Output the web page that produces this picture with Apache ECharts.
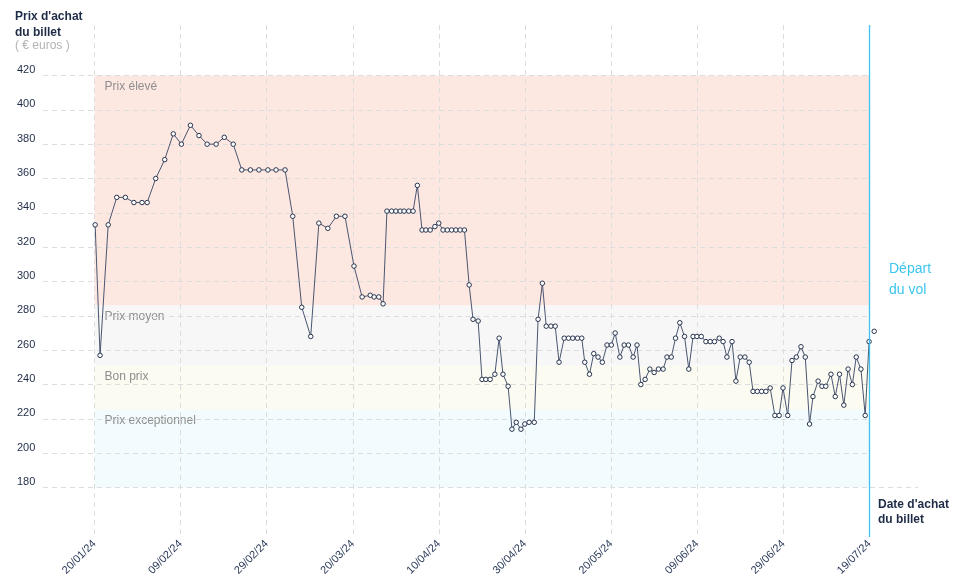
<!DOCTYPE html>
<html>
<head>
<meta charset="utf-8">
<script src="https://cdn.jsdelivr.net/npm/echarts@6/dist/echarts.min.js"></script>
<style>html,body{margin:0;padding:0;background:#fff}#c{width:958px;height:585px}</style>
</head>
<body>
<div id="c"></div>
<script>
// x tick labels (purchase dates)
const tickLabels = ['20/01/24','09/02/24','29/02/24','20/03/24','10/04/24','30/04/24','20/05/24','09/06/24','29/06/24','19/07/24'];
// departure = 181 days after 20/01/24
const departureDay = 181;
// price bands
const bandNames = ['Prix élevé','Prix moyen','Bon prix','Prix exceptionnel'];
const bandLow  = [286, 251, 225.5, 180];
const bandHigh = [420, 286, 251, 225.5];
const bandColors = ['#fde7e1','#f7f7f7','#fbfbf1','#f2fbfd'];
// purchase day (days after 20/01/24)
const purchaseDay = [
  0.15,1.3,3.2,5.2,7.2,9.2,11.1,12.3,14.3,16.4,18.4,20.3,22.4,
  24.4,26.3,28.4,30.3,32.4,34.4,36.4,38.4,40.5,42.4,44.5,
  46.3,48.4,50.5,52.4,54.5,56.5,58.5,60.6,62.5,64.4,65.3,66.4,67.4,68.3,
  69.4,70.4,71.4,72.3,73.4,74.4,75.4,76.5,77.4,78.4,79.5,80.4,81.4,82.4,83.4,84.4,85.4,86.4,87.5,88.4,89.6,90.5,91.4,92.4,
  93.5,94.5,95.4,96.6,97.5,98.5,99.6,100.5,101.5,102.7,103.6,104.6,105.5,106.6,107.6,108.5,109.7,110.7,111.7,112.8,113.8,114.5,115.6,
  116.6,117.6,118.6,119.7,120.7,121.6,122.7,123.7,124.7,125.8,126.7,127.6,128.6,129.7,130.7,131.7,132.8,133.7,134.7,135.7,136.7,137.8,138.8,
  139.8,140.7,141.7,142.8,143.8,144.8,145.9,146.8,147.7,148.9,149.8,150.8,151.9,152.9,153.8,154.8,155.8,156.8,157.8,158.9,159.9,160.8,161.9,
  162.9,163.9,165.0,166.0,167.0,167.8,169.0,169.9,170.8,172.0,173.0,174.0,175.0,176.0,177.0,177.9,179.0,180.0,180.9,182.1
];
// ticket price (€)
const price = [
  333,257,333,349,349,346,346,346,360,371,386,380,391,
  385,380,380,384,380,365,365,365,365,365,365,
  338,285,268,334,331,338,338,309,291,292,291,291,287,341,
  341,341,341,341,341,341,356,330,330,330,332,334,330,330,330,330,330,330,298,278,277,243,243,243,
  246,267,246,239,214,218,214,217,218,218,278,299,274,274,274,253,267,267,267,267,267,253,246,
  258,256,253,263,263,270,256,263,263,256,263,240,243,249,247,249,249,256,256,267,276,268,249,
  268,268,268,265,265,265,267,265,256,265,242,256,256,253,236,236,236,236,238,222,222,238,222,
  254,256,262,256,217,233,242,239,239,246,233,246,228,249,240,256,249,222,265,271
];

const FONT = "'Liberation Sans', Arial, sans-serif";
const DARK = '#1f2c47';
const BLUE = '#3fc3ee';
const xStep = departureDay / (tickLabels.length - 1);
const yMin0 = 151.2, yMax0 = 449.4;

const chart = echarts.init(document.getElementById('c'));

const bandData = bandNames.map((n, i) => [
  {name: n, xAxis: 0, yAxis: bandHigh[i], itemStyle: {color: bandColors[i]}},
  {xAxis: departureDay, yAxis: bandLow[i]}
]);

chart.setOption({
  animation: false,
  textStyle: {fontFamily: FONT},
  grid: [
    {left: 94.5, right: 88.5, top: 25, bottom: 48},
    {left: 43, right: 88.5, top: 75.5, bottom: 97.5}
  ],
  xAxis: [
    {
      type: 'value', gridIndex: 0, min: 0, max: departureDay, interval: xStep, z: 3,
      axisLine: {show: false}, axisTick: {show: false},
      splitLine: {show: true, lineStyle: {type: [5, 4], color: '#dddddd', width: 1}},
      axisLabel: {
        rotate: 45, margin: 5, fontSize: 11, color: '#2a3a58', fontFamily: FONT,
        showMinLabel: true, showMaxLabel: true,
        formatter: v => tickLabels[Math.round(v / xStep)] || ''
      }
    },
    {type: 'value', gridIndex: 1, min: 0, max: 1, show: false}
  ],
  yAxis: [
    {type: 'value', gridIndex: 0, min: yMin0, max: yMax0, show: false},
    {
      type: 'value', gridIndex: 1, min: 180, max: 420, interval: 20, z: 3,
      axisLine: {show: false}, axisTick: {show: false},
      splitLine: {show: true, lineStyle: {type: [5, 4], color: '#dddddd', width: 1}},
      axisLabel: {align: 'left', verticalAlign: 'bottom', margin: 26, fontSize: 11, color: DARK, fontFamily: FONT}
    }
  ],
  series: [
    {
      type: 'line', xAxisIndex: 0, yAxisIndex: 0, data: [], z: 1, silent: true,
      markArea: {
        silent: true, z: 1,
        label: {show: true, position: 'insideTopLeft', distance: 5, offset: [5, 0], color: '#8e8e8e', fontSize: 12, fontFamily: FONT},
        data: bandData
      }
    },
    {
      type: 'line', xAxisIndex: 0, yAxisIndex: 0, z: 10, clip: false,
      data: purchaseDay.map((d, i) => [d, price[i]]),
      symbol: 'circle', symbolSize: 4.5,
      lineStyle: {color: '#4a5670', width: 1},
      itemStyle: {color: '#ffffff', borderColor: '#27344f', borderWidth: 1}
    },
    {
      // departure line
      type: 'line', xAxisIndex: 0, yAxisIndex: 0, z: 20, silent: true,
      symbol: 'none',
      data: [[departureDay, yMin0], [departureDay, yMax0]],
      lineStyle: {color: BLUE, width: 1.3, type: 'solid'}
    }
  ],
  graphic: [
    {type: 'text', left: 15, top: 11, style: {text: "Prix d'achat", font: "bold 12px " + FONT, fill: DARK}},
    {type: 'text', left: 15, top: 27, style: {text: 'du billet', font: "bold 12px " + FONT, fill: DARK}},
    {type: 'text', left: 15, top: 40, style: {text: '( € euros )', font: "12px " + FONT, fill: '#b3b3b3'}},
    {type: 'text', left: 889, top: 262, style: {text: 'Départ', font: "14px " + FONT, fill: '#3cc6ef'}},
    {type: 'text', left: 889, top: 283, style: {text: 'du vol', font: "14px " + FONT, fill: '#3cc6ef'}},
    {type: 'text', left: 878, top: 499, style: {text: "Date d'achat", font: "bold 12px " + FONT, fill: DARK}},
    {type: 'text', left: 878, top: 514, style: {text: 'du billet', font: "bold 12px " + FONT, fill: DARK}},
    {type: 'line', shape: {x1: 870, y1: 487.5, x2: 918, y2: 487.5}, style: {stroke: '#dddddd', lineWidth: 1, lineDash: [5, 4]}}
  ]
});
</script>
</body>
</html>
